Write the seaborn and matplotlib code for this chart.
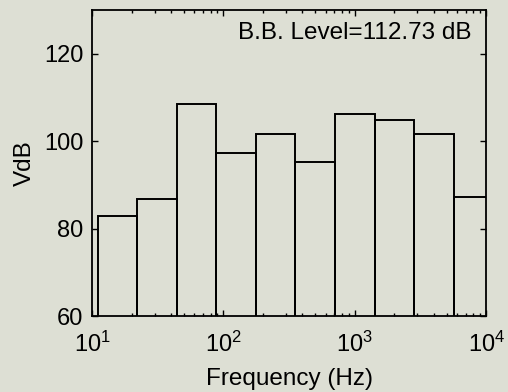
import matplotlib
matplotlib.use('Agg')
import matplotlib.pyplot as plt
import seaborn as sns
import numpy as np

# octave band centre frequencies (Hz) and levels (VdB)
band_centers = [15.625, 31.25, 62.5, 125, 250, 500, 1000, 2000, 4000, 8000]
band_levels = [83.0, 86.9, 108.5, 97.4, 101.6, 95.4, 106.2, 104.9, 101.6, 87.4]
bb_level = 112.73

bg = '#dddfd4'
sns.set_style('ticks')
plt.rcParams['font.family'] = ['Liberation Sans', 'DejaVu Sans']
plt.rcParams['text.color'] = 'black'
plt.rcParams['axes.labelcolor'] = 'black'
plt.rcParams['mathtext.fontset'] = 'custom'
plt.rcParams['mathtext.rm'] = 'Liberation Sans'

fig = plt.figure(figsize=(5.08, 3.92), dpi=100, facecolor=bg)
ax = fig.add_axes([0.181, 0.193, 0.776, 0.781])
ax.set_facecolor(bg)

# octave band edges in log10 space
log_edges = list(np.log10([band_centers[0] / np.sqrt(2)] + [c * np.sqrt(2) for c in band_centers]))

sns.histplot(x=band_centers, weights=band_levels, bins=log_edges, log_scale=True,
             fill=False, element='bars', color='black', linewidth=1.4, ax=ax)

ax.set_xlim(10, 1e4)
ax.set_ylim(60, 130)
ax.set_yticks([60, 80, 100, 120])
ax.set_xlabel('Frequency (Hz)', fontsize=17.5, labelpad=8)
ax.set_ylabel('VdB', fontsize=17.5, labelpad=6)
ax.tick_params(axis='both', which='both', direction='in', top=True, right=True,
               labelsize=17, width=1.0, colors='black')
ax.tick_params(which='major', length=4)
ax.tick_params(which='minor', length=2.5)
ax.tick_params(axis='x', which='both', pad=11)
ax.tick_params(axis='y', which='both', pad=6)
for s in ax.spines.values():
    s.set_linewidth(1.3)
    s.set_color('black')

ax.text(0.964, 0.925, 'B.B. Level=%.2f dB' % bb_level, transform=ax.transAxes,
        ha='right', va='center', fontsize=17.5)

fig.savefig('out.png', dpi=100, facecolor=bg)
